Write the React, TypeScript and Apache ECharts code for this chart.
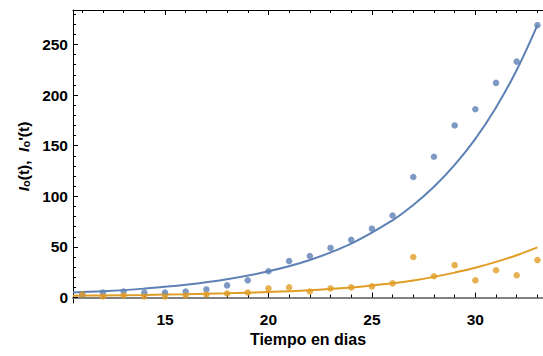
import React, { useEffect, useRef } from "react";
import * as echarts from "echarts";

// Observed data (days 11..33)
const days = [11, 12, 13, 14, 15, 16, 17, 18, 19, 20, 21, 22, 23, 24, 25, 26, 27, 28, 29, 30, 31, 32, 33];
const blueObs = [3, 5, 6, 5, 5, 6, 8, 12, 17, 26, 36, 41, 49, 57, 68, 81, 119, 139, 170, 186, 212, 233, 269];
const orangeObs = [3, 1, 2, 1, 1, 2, 3, 4, 5, 9, 10, 6, 9, 10, 11, 14, 40, 21, 32, 17, 27, 22, 37];

// Fitted curves
const curveDays = [10.55, 12, 14, 16, 18, 20, 22, 24, 26, 27, 28, 29, 30, 31, 32, 33];
const blueCurve = [5.0, 6.1, 8.8, 12.6, 18.1, 25.9, 37.1, 53.2, 76.3, 91.4, 109.4, 131, 156.7, 187.7, 224.7, 269];
const orangeCurve = [1.8, 2.1, 2.6, 3.3, 4.2, 5.5, 7.3, 9.8, 14.2, 16.9, 20.4, 24.6, 29.4, 35.2, 41.8, 49.5];

// Ticks
const xMajor = [15, 20, 25, 30];
const xMinor = [11, 12, 13, 14, 16, 17, 18, 19, 21, 22, 23, 24, 26, 27, 28, 29, 31, 32, 33];
const yMajor = [0, 50, 100, 150, 200, 250];
const yMinor = [10, 20, 30, 40, 60, 70, 80, 90, 110, 120, 130, 140, 160, 170, 180, 190, 210, 220, 230, 240, 260, 270, 280];

const X_MIN = 10.553;
const X_MAX = 33.27;
const Y_MIN = -5.4;
const Y_MAX = 284;

const BLUE = "#5E81B5";
const ORANGE = "#E19C24";
const FONT = "'Liberation Sans', Arial, sans-serif";

export default function App() {
  const ref = useRef<HTMLDivElement>(null);
  useEffect(() => {
    if (!ref.current) return;
    const chart = echarts.init(ref.current, null, { renderer: "svg" });
    const pair = (xs: number[], ys: number[]) => xs.map((x, i) => [x, ys[i]]);
    const baseX = {
      type: "value" as const,
      min: X_MIN,
      max: X_MAX,
      splitLine: { show: false },
      offset: 0,
    };
    const baseY = {
      type: "value" as const,
      min: Y_MIN,
      max: Y_MAX,
      splitLine: { show: false },
      offset: 0,
    };
    chart.setOption({
      animation: false,
      backgroundColor: "#ffffff",
      grid: { left: 73, right: 0, top: 10, bottom: 53, containLabel: false },
      xAxis: [
        {
          ...baseX,
          position: "bottom",
          axisLine: { show: true, lineStyle: { color: "#808080", width: 2 } },
          axisTick: { show: true, inside: true, length: 5, customValues: xMajor, lineStyle: { color: "#000" } },
          axisLabel: { show: true, customValues: xMajor, color: "#000", fontSize: 15.5, fontWeight: "bold", fontFamily: FONT, margin: 8 },
          name: "Tiempo en dias",
          nameLocation: "middle",
          nameGap: 25,
          nameTextStyle: { color: "#000", fontSize: 16, fontWeight: "bold", fontFamily: FONT },
        },
        {
          ...baseX,
          position: "bottom",
          axisLine: { show: false },
          axisTick: { show: true, inside: true, length: 3, customValues: xMinor, lineStyle: { color: "#000" } },
          axisLabel: { show: false },
        },
        {
          ...baseX,
          position: "top",
          axisLine: { show: true, lineStyle: { color: "#000", width: 1 } },
          axisTick: { show: true, inside: true, length: 5, customValues: xMajor, lineStyle: { color: "#000" } },
          axisLabel: { show: false },
        },
        {
          ...baseX,
          position: "top",
          axisLine: { show: false },
          axisTick: { show: true, inside: true, length: 3, customValues: xMinor, lineStyle: { color: "#000" } },
          axisLabel: { show: false },
        },
      ],
      yAxis: [
        {
          ...baseY,
          position: "left",
          axisLine: { show: true, lineStyle: { color: "#000", width: 1 } },
          axisTick: { show: true, inside: true, length: 5, customValues: yMajor, lineStyle: { color: "#000" } },
          axisLabel: { show: true, customValues: yMajor, color: "#000", fontSize: 15.5, fontWeight: "bold", fontFamily: FONT, margin: 5 },
          name: "{i|I}{s|o}{n|(t),  }{i|I}{s|o}{n|'(t)}",
          nameLocation: "middle",
          nameGap: 40,
          nameRotate: 90,
          nameTextStyle: {
            color: "#000",
            fontFamily: FONT,
            rich: {
              i: { fontSize: 15.5, fontWeight: "bold", fontStyle: "italic", fontFamily: FONT, color: "#000", lineHeight: 20, verticalAlign: "bottom" },
              s: { fontSize: 11, fontWeight: "bold", fontFamily: FONT, color: "#000", lineHeight: 10, verticalAlign: "bottom" },
              n: { fontSize: 15.5, fontWeight: "bold", fontFamily: FONT, color: "#000", lineHeight: 20, verticalAlign: "bottom" },
            },
          },
        },
        {
          ...baseY,
          position: "left",
          axisLine: { show: false },
          axisTick: { show: true, inside: true, length: 3, customValues: yMinor, lineStyle: { color: "#000" } },
          axisLabel: { show: false },
        },
      ],
      series: [
        {
          type: "line",
          data: pair(curveDays, blueCurve),
          smooth: 0.4,
          showSymbol: false,
          symbol: "none",
          lineStyle: { color: BLUE, width: 2 },
          xAxisIndex: 0,
          yAxisIndex: 0,
          z: 2,
        },
        {
          type: "line",
          data: pair(curveDays, orangeCurve),
          smooth: 0.4,
          showSymbol: false,
          symbol: "none",
          lineStyle: { color: ORANGE, width: 2 },
          xAxisIndex: 0,
          yAxisIndex: 0,
          z: 2,
        },
        {
          type: "scatter",
          data: pair(days, blueObs),
          symbol: "circle",
          symbolSize: 6.5,
          itemStyle: { color: BLUE },
          xAxisIndex: 0,
          yAxisIndex: 0,
          z: 3,
        },
        {
          type: "scatter",
          data: pair(days, orangeObs),
          symbol: "circle",
          symbolSize: 6.5,
          itemStyle: { color: ORANGE },
          xAxisIndex: 0,
          yAxisIndex: 0,
          z: 3,
        },
      ],
    });
    return () => chart.dispose();
  }, []);
  return <div ref={ref} style={{ position: "fixed", left: 0, top: 0, width: 543, height: 356, background: "#fff" }} />;
}
